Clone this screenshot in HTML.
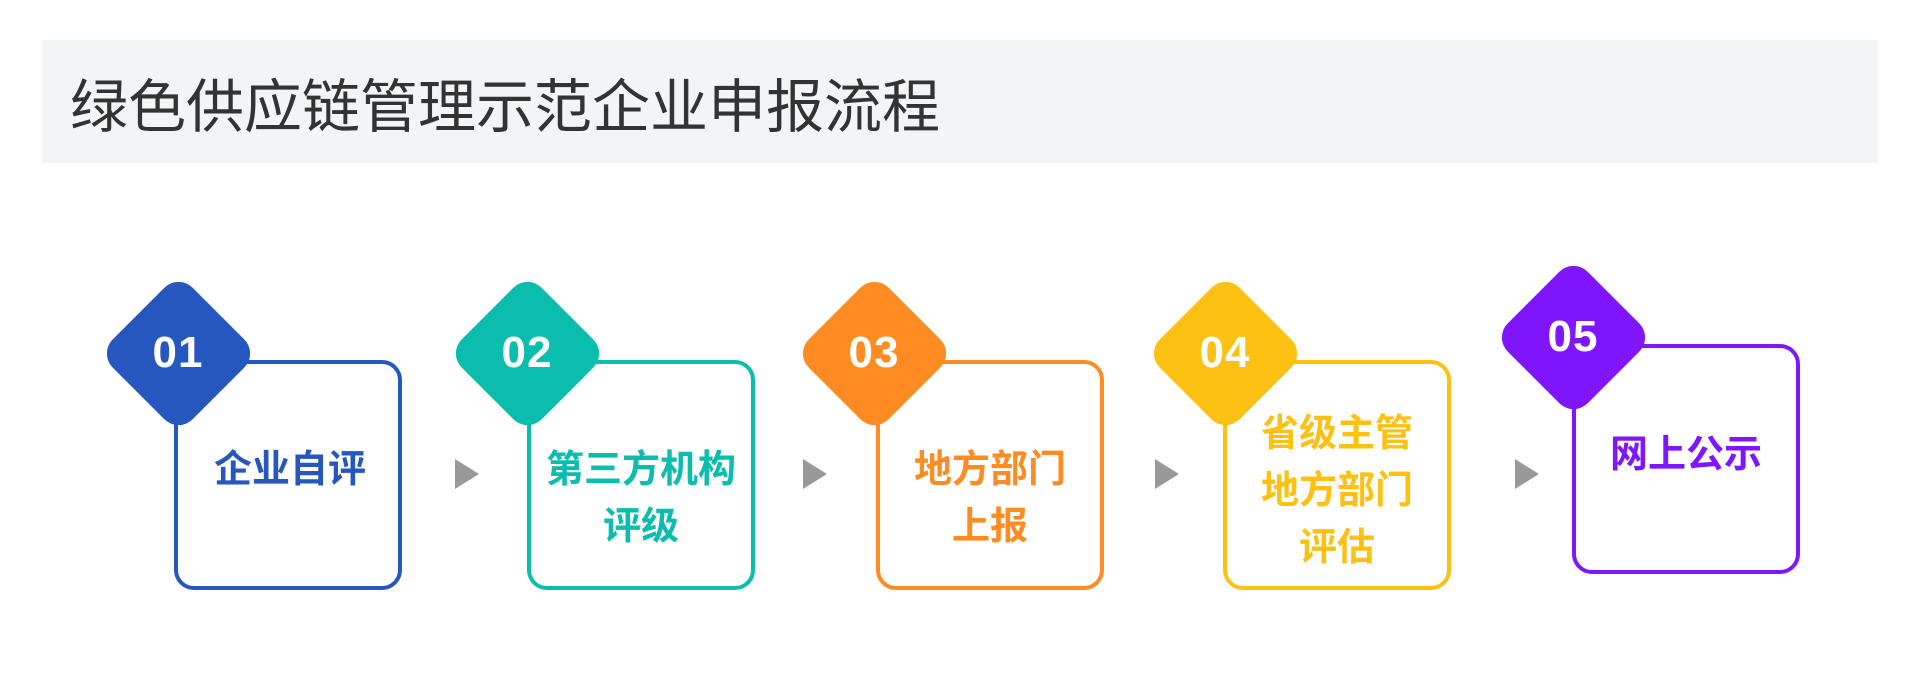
<!DOCTYPE html>
<html><head><meta charset="utf-8"><style>
body{margin:0;width:1920px;height:688px;background:#fff;position:relative;overflow:hidden;font-family:"Liberation Sans","Noto Sans CJK SC",sans-serif}
.hdr{position:absolute;left:42px;top:40px;width:1836px;height:123px;background:#f3f4f6}
.hdr span{position:absolute;left:28px;top:33px;font-size:58px;color:#333;line-height:70px;white-space:nowrap}
.box{position:absolute;width:220px;height:222px;border:4px solid;border-radius:20px;background:#fff}
.dia{position:absolute;width:113px;height:113px;border-radius:20px;transform:rotate(45deg)}
.num{position:absolute;width:146px;text-align:center;color:#fff;font-weight:bold;font-size:44px;line-height:50px;letter-spacing:1px}
.t{position:absolute;width:228px;text-align:center;font-weight:bold;font-size:38px;line-height:57px}
.arr{position:absolute;width:0;height:0;border-top:15px solid transparent;border-bottom:15px solid transparent;border-left:24px solid #999;top:459px}
</style></head><body>
<div class="hdr"><span>绿色供应链管理示范企业申报流程</span></div>

<div class="box" style="left:174px;top:360px;border-color:#2557be"></div>
<div class="dia" style="left:122px;top:297px;background:#2557be"></div>
<div class="num" style="left:105px;top:328px">01</div>
<div class="t" style="left:176px;top:442px;color:#2557be">企业自评</div>

<div class="arr" style="left:455px"></div>

<div class="box" style="left:527px;top:360px;border-color:#0bbdad"></div>
<div class="dia" style="left:471px;top:297px;background:#0bbdad"></div>
<div class="num" style="left:454px;top:328px">02</div>
<div class="t" style="left:527px;top:442px;color:#0bbdad">第三方机构<br>评级</div>

<div class="arr" style="left:803px"></div>

<div class="box" style="left:876px;top:360px;border-color:#ff8c22"></div>
<div class="dia" style="left:818px;top:297px;background:#ff8c22"></div>
<div class="num" style="left:801px;top:328px">03</div>
<div class="t" style="left:876px;top:442px;color:#ff8c22">地方部门<br>上报</div>

<div class="arr" style="left:1155px"></div>

<div class="box" style="left:1223px;top:360px;border-color:#fdc113"></div>
<div class="dia" style="left:1169px;top:297px;background:#fdc113"></div>
<div class="num" style="left:1152px;top:328px">04</div>
<div class="t" style="left:1223px;top:406px;color:#fdc113">省级主管<br>地方部门<br>评估</div>

<div class="arr" style="left:1515px"></div>

<div class="box" style="left:1572px;top:344px;border-color:#7f16fd"></div>
<div class="dia" style="left:1517px;top:281px;background:#7f16fd"></div>
<div class="num" style="left:1500px;top:312px">05</div>
<div class="t" style="left:1572px;top:427px;color:#7f16fd">网上公示</div>
</body></html>
